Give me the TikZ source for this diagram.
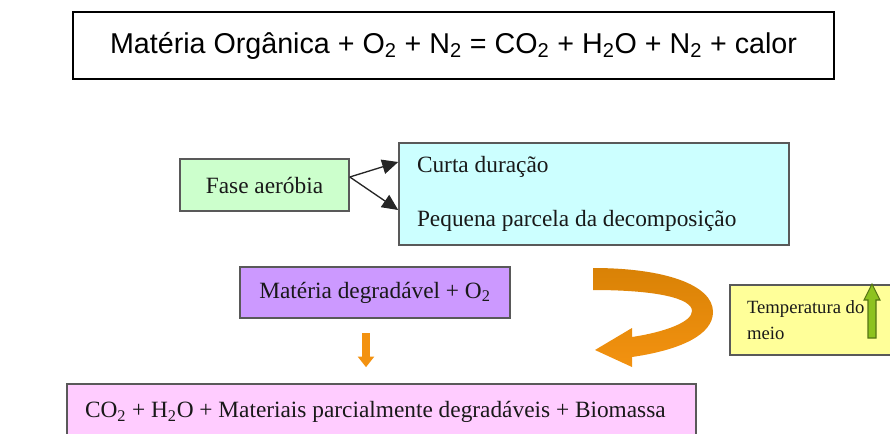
\documentclass[tikz,border=0pt]{standalone}
\usepackage{fontspec}
\setmainfont{Liberation Serif}
\newfontfamily\arialfont{Liberation Sans}
\usetikzlibrary{arrows}
\usetikzlibrary{arrows.meta}

\definecolor{verdeclaro}{HTML}{CCFFCC}
\definecolor{cianoclaro}{HTML}{CCFFFF}
\definecolor{lilas}{HTML}{CC99FF}
\definecolor{rosa}{HTML}{FFCCFF}
\definecolor{amarelo}{HTML}{FFFF99}
\definecolor{laranja}{HTML}{F39210}
\definecolor{laranjaesc}{HTML}{D98206}
\definecolor{verdeseta}{HTML}{8DC21F}

\begin{document}
\begin{tikzpicture}[x=0.75pt,y=-0.75pt,
  caixa/.style={rectangle,draw=black!65,line width=1.2pt,inner sep=0pt,text=black!90,
    font=\fontsize{17.5}{20}\selectfont},
  equacao/.style={rectangle,draw=black,line width=0.8pt,inner sep=0pt,
    minimum width=570.75pt,minimum height=50.25pt,font=\arialfont\fontsize{21.5}{25}\selectfont},
  fase/.style={caixa,fill=verdeclaro,minimum width=126.75pt,minimum height=39pt},
  lista/.style={caixa,fill=cianoclaro,minimum height=76.5pt,inner xsep=13.5pt,
    text width=265.5pt,align=flush left,font=\fontsize{17.5}{40}\selectfont},
  reagente/.style={caixa,fill=lilas,minimum width=202.5pt,minimum height=38.25pt},
  produto/.style={caixa,fill=rosa,minimum height=42pt,inner xsep=13.5pt,
    text width=444.75pt,align=flush left},
  nota/.style={caixa,fill=amarelo,minimum height=52.5pt,inner xsep=12.75pt,
    text width=98.25pt,align=flush left,font=\fontsize{14}{20}\selectfont},
  seta/.style={draw=black!85,line width=1pt,-{Triangle[width=11pt,length=12pt]}}]
\useasboundingbox (0,0) rectangle (890,433);

\node[equacao] (reacao) at (453.5,45.5)
  {Matéria Orgânica + O\textsubscript{2} + N\textsubscript{2} = CO\textsubscript{2} + H\textsubscript{2}O + N\textsubscript{2} + calor};

\node[fase] (aerobia) at (264.5,185) {Fase aeróbia};
\node[lista] (efeitos) at (594,194) {Curta duração\\Pequena parcela da decomposição};

\draw[seta] ([yshift=6pt]aerobia.east) -- ([yshift=24pt]efeitos.west);
\draw[seta] ([yshift=6pt]aerobia.east) -- ([yshift=-12pt]efeitos.west);

\node[reagente] (materia) at (375,292.5) {Matéria degradável + O\textsubscript{2}};
\node[produto] (produtos) at (381.5,412)
  {CO\textsubscript{2} + H\textsubscript{2}O + Materiais parcialmente degradáveis + Biomassa};
\node[nota] (temperatura) at (812.5,320) {Temperatura do\\meio};

% seta pequena para baixo
\coordinate (desce) at (366,0);
\draw[draw=laranja,line width=5.5pt,shorten <=11pt,shorten >=12pt,
  -{Triangle[width=12pt,length=8pt]}] (materia.south -| desce) -- (produtos.north -| desce);

% seta curva (calor)
\shade[top color=laranjaesc,bottom color=laranja]
  (593,268) .. controls (665,268) and (713,285) .. (713,312)
  .. controls (713,335) and (680,350) .. (632,357)
  -- (632,367) -- (595,350) -- (632,328) -- (632,337)
  .. controls (665,332) and (692,322) .. (692,311)
  .. controls (692,298) and (655,290) .. (593,290) -- cycle;

% seta verde
\filldraw[fill=verdeseta,draw=verdeseta!60!black,line width=0.8pt]
  (872,284) -- (880,300) -- (876,300) -- (876,338) -- (868,338) -- (868,300) -- (864,300) -- cycle;
\end{tikzpicture}
\end{document}
